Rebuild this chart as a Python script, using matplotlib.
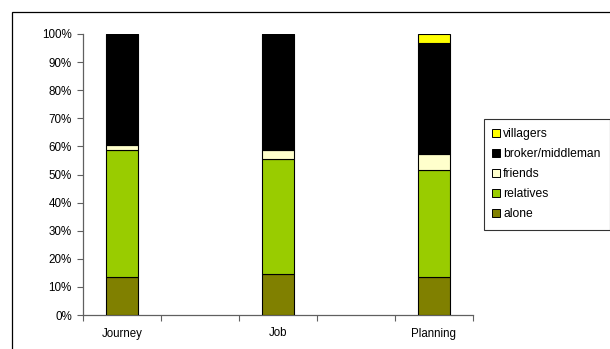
import matplotlib.pyplot as plt
from matplotlib.patches import Rectangle
from matplotlib.lines import Line2D
import numpy as np

plt.rcParams['font.family'] = ['Liberation Sans', 'DejaVu Sans']

categories = ["Journey", "Job", "Planning"]
series = ["alone", "relatives", "friends", "broker/middleman", "villagers"]
alone = [13.5, 14.6, 13.5]
relatives = [45.1, 41.0, 38.1]
friends = [1.9, 3.2, 5.7]
broker = [39.5, 41.2, 39.6]
villagers = [0.0, 0.0, 3.1]
colors = ["#808000", "#99CC00", "#FFFFCC", "#000000", "#FFFF00"]

values = [alone, relatives, friends, broker, villagers]

fig = plt.figure(figsize=(6.10, 3.49), dpi=100)
# outer chart border
fig.patches.append(Rectangle((12.5 / 610, -0.1), 1.2, 1.1 - 12 / 349,
                             transform=fig.transFigure, fill=False,
                             edgecolor='black', linewidth=0.9))

ax = fig.add_axes([83 / 610, 34 / 349, 390 / 610, 281 / 349])

# categories sit every other slot, empty slots between them
x = np.arange(len(categories)) * 2
bottom = np.zeros(len(categories))
handles = []
for name, vals, c in zip(series, values, colors):
    vals = np.array(vals)
    ax.bar(x, vals, 0.42, bottom=bottom, color=c, edgecolor='black', linewidth=0.8, zorder=3)
    bottom += vals
    handles.append(Line2D([], [], marker='s', linestyle='none', markersize=5.2,
                          markerfacecolor=c, markeredgecolor='black', markeredgewidth=0.7, label=name))

ax.set_xlim(-0.5, 4.5)
ax.set_ylim(0, 100)
ax.set_yticks(np.arange(0, 101, 10))
ax.set_yticklabels(["%d%%" % v for v in range(0, 101, 10)], fontsize=8.4)
ax.set_xticks(np.arange(-0.5, 4.6, 1))
ax.set_xticklabels([])
ax.set_xticks(x, minor=True)
ax.set_xticklabels(categories, minor=True, fontsize=8.3)
ax.tick_params(axis='x', which='minor', length=0, pad=9)
ax.tick_params(axis='x', which='major', length=4, color='#606060', width=0.8)
ax.tick_params(axis='y', length=4, color='#606060', width=0.8, pad=4)
for s in ['top', 'right']:
    ax.spines[s].set_visible(False)
for s in ['left', 'bottom']:
    ax.spines[s].set_color('#606060')
    ax.spines[s].set_linewidth(0.9)

leg = fig.legend(handles=handles[::-1], loc='upper left', bbox_to_anchor=(484 / 610, 1 - 119 / 349),
                 fontsize=8.7, frameon=True, fancybox=False, edgecolor='black',
                 handlelength=0.5, handletextpad=0.3, labelspacing=0.66, borderpad=0.78,
                 borderaxespad=0)
leg.get_frame().set_linewidth(0.8)

fig.savefig("out.png", dpi=100)
